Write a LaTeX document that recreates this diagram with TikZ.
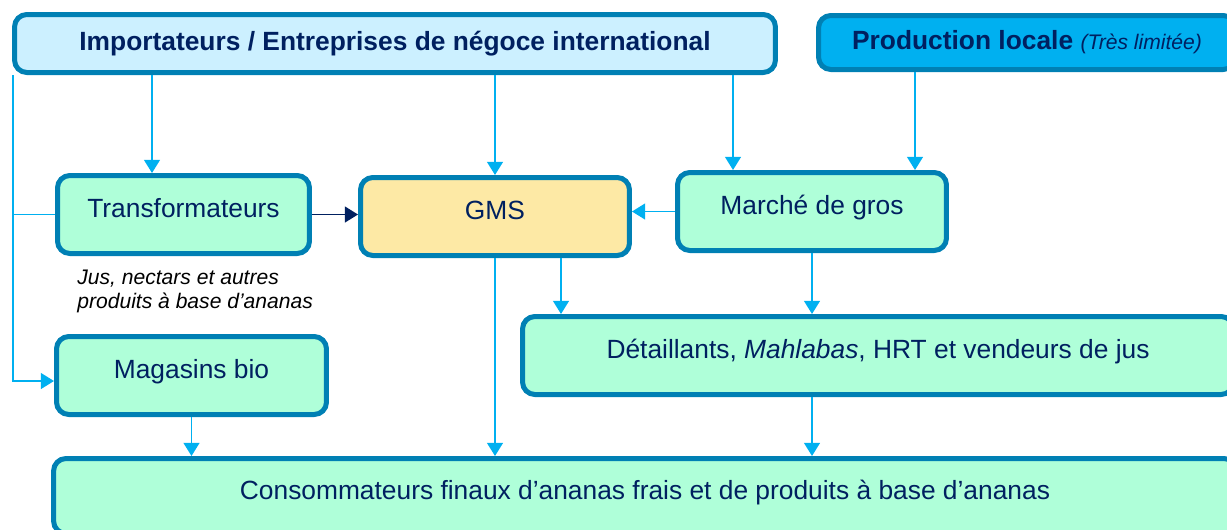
\documentclass[tikz,border=0pt]{standalone}
\usepackage{fontspec}
\setmainfont{Liberation Sans}
\usepackage{xcolor}
\usepackage{tikz}
\usetikzlibrary{arrows.meta}
\usetikzlibrary{positioning}
\definecolor{rand}{RGB}{0,128,180}
\definecolor{navy}{RGB}{0,32,96}
\definecolor{cyanline}{RGB}{0,176,240}
\definecolor{hellblau}{RGB}{204,240,255}
\definecolor{gruen}{RGB}{175,255,217}
\definecolor{gelb}{RGB}{253,233,165}
\tikzset{>={Triangle[length=7.5pt,width=9pt]}}
\tikzset{
  kasten/.style={draw=rand,line width=2.85pt,rounded corners=7pt,text=navy,
    font=\fontsize{15}{18}\selectfont,minimum height=1.56cm},
  unten/.style={kasten,fill=gruen,text height=11pt,text depth=7.5pt},
  fluss/.style={->,draw=cyanline,line width=1.1pt}
}

\begin{document}
\begin{tikzpicture}[x=0.02cm,y=-0.02cm]
                \useasboundingbox (0,0) rectangle (1227,529);
                \clip (0,0) rectangle (1227,529);
                \node[kasten,fill=hellblau,minimum width=15.22cm,minimum height=1.16cm] (imp) at (395,43.5)
                  {\textbf{Importateurs / Entreprises de négoce international}};
                \node[kasten,fill=cyanline,minimum width=8.34cm,minimum height=1.08cm] (prod) at (1027,42.5)
                  {\textbf{Production locale} {\fontsize{12}{14}\selectfont\itshape (Très limitée)}};
                \node[unten,minimum width=5.04cm] (trans) at (183.5,214.5) {Transformateurs};
                \node[unten,fill=gelb,minimum width=5.38cm] (gms) at (495,216.5) {GMS};
                \node[unten,minimum width=5.38cm] (gros) at (812,211.5) {Marché de gros};
                \node[unten,minimum width=5.4cm] (bio) at (191.5,375.5) {Magasins bio};
                \node[unten,minimum width=14.22cm] (det) at (878,355.5)
                  {Détaillants, \textit{Mahlabas}, HRT et vendeurs de jus};
                \node[unten,minimum width=23.66cm,minimum height=1.5cm] (cons) at (645,496)
                  {Consommateurs finaux d’ananas frais et de produits à base d’ananas};
                \node[anchor=west,inner sep=0pt,align=left,text=black,
                  font=\fontsize{12}{13.7}\selectfont\itshape] (jus) at (77,291)
                  {Jus, nectars et autres\\produits à base d’ananas};
                \coordinate (li) at (13,0);
                \coordinate (lb) at (13,381);
                \coordinate (xa) at (152,0);
                \coordinate (xb) at (733,0);
                \coordinate (xc) at (915,0);
                \coordinate (xd) at (561,0);
                \draw[fluss] (imp.south -| xa) -- (trans.north -| xa);
                \draw[fluss] (imp.south -| gms.north) -- (gms.north);
                \draw[fluss] (imp.south -| xb) -- (gros.north -| xb);
                \draw[fluss] (prod.south -| xc) -- (gros.north -| xc);
                \draw[fluss] (imp.south -| li) -- (lb) -- (bio.west |- lb);
                \draw[draw=cyanline,line width=1.1pt] (trans.west) -- (trans.west -| li);
                \draw[->,draw=navy,line width=1.1pt] (trans.east) -- (trans.east -| gms.west);
                \draw[fluss] (gros.west) -- (gros.west -| gms.east);
                \draw[fluss] (gms.south -| xd) -- (det.north -| xd);
                \draw[fluss] (gms.south) -- (gms.south |- cons.north);
                \draw[fluss] (gros.south) -- (gros.south |- det.north);
                \draw[fluss] (det.south -| gros.south) -- (cons.north -| gros.south);
                \draw[fluss] (bio.south) -- (bio.south |- cons.north);
            \end{tikzpicture}
\end{document}
